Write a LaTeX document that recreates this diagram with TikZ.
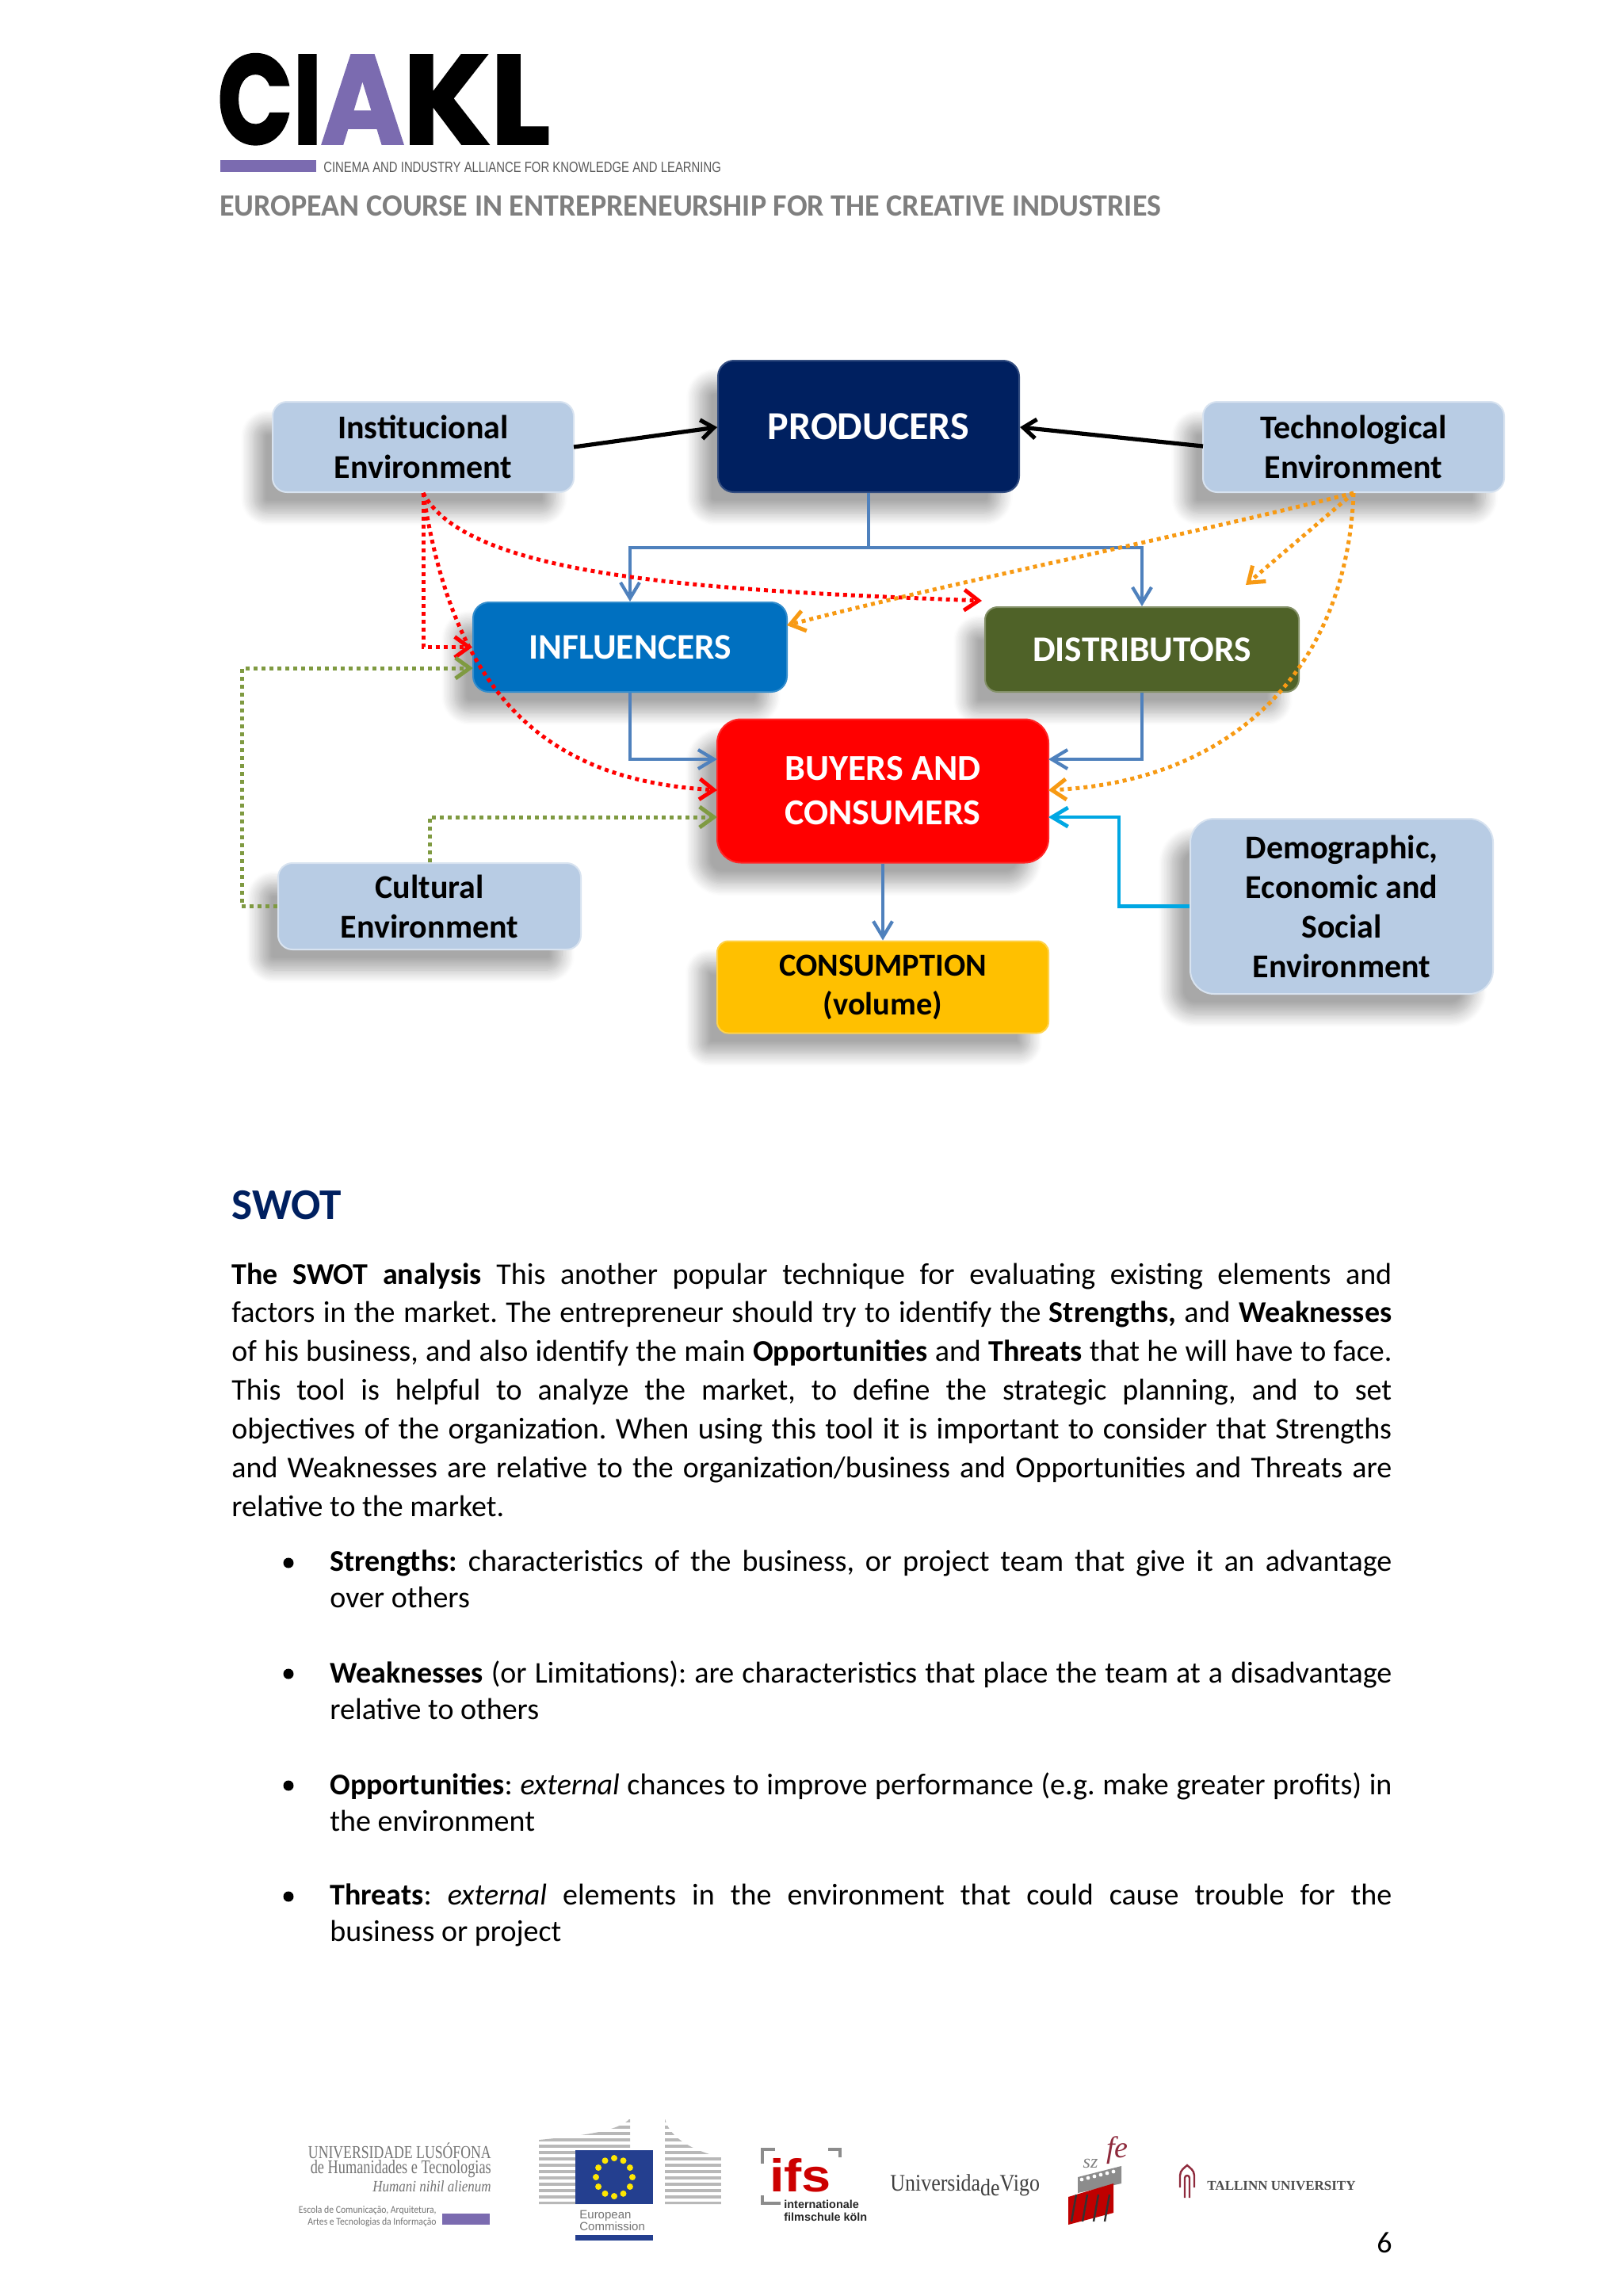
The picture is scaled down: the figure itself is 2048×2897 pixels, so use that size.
\documentclass[tikz,border=0pt]{standalone}
\usepackage{fontspec}
\usepackage{xcolor}
\usepackage{tikz}
\usetikzlibrary{arrows.meta, positioning, calc, shadows.blur}
\setmainfont{Carlito}
\newfontfamily\logofont[BoldFeatures={FakeBold=1.5}]{Poppins}
\newfontfamily\tagfont{Liberation Sans}
\newfontfamily\crestfont{Liberation Serif}
\definecolor{envblue}{HTML}{B8CCE4}
\definecolor{navybox}{HTML}{002060}
\definecolor{inflblue}{HTML}{0070C0}
\definecolor{distgreen}{HTML}{4F6228}
\definecolor{consyellow}{HTML}{FFC000}
\definecolor{linkblue}{HTML}{4F81BD}
\definecolor{demoblue}{HTML}{00A7E3}
\definecolor{dotgreen}{HTML}{7F9A41}
\definecolor{dotorange}{HTML}{F79A14}
\definecolor{ciaklpurple}{HTML}{7B6BB0}
\definecolor{headgrey}{HTML}{7F7F7F}
\definecolor{euflag}{HTML}{243F8F}
\definecolor{tallred}{HTML}{8E2A3C}
\tikzset{
  softshad/.style={blur shadow={shadow xshift=-12pt, shadow yshift=-13pt,
                   shadow blur steps=12, shadow blur radius=8pt, shadow opacity=34}},
  envbox/.style  ={rectangle, draw=envblue!55!white, line width=1pt, rounded corners=9pt,
                   fill=envblue, softshad, minimum width=190pt, minimum height=57pt,
                   align=center, text=black, inner sep=2pt,
                   font=\fontsize{21}{25}\selectfont\bfseries},
  mainbox/.style ={rectangle, line width=1pt, rounded corners=10pt, softshad,
                   align=center, text=white, inner sep=2pt,
                   font=\fontsize{25}{29}\selectfont\bfseries},
  ar/.style      ={-{Straight Barb[length=10pt, width=12pt]}, line width=2.1pt, linkblue},
  blk/.style     ={-{Straight Barb[length=8pt, width=12pt]}, line width=2.6pt, black},
  reddot/.style  ={-{Straight Barb[length=9pt, width=13pt]}, line width=2.5pt, red,
                   dash pattern=on 2.5pt off 2.5pt},
  orgdot/.style  ={-{Straight Barb[length=9pt, width=13pt]}, line width=2.5pt, dotorange,
                   dash pattern=on 2.5pt off 2.5pt},
  grndot/.style  ={-{Straight Barb[length=9pt, width=13pt]}, line width=2.5pt, dotgreen,
                   dash pattern=on 2.5pt off 2.5pt},
  para/.style    ={anchor=north west, inner sep=0pt, align=justify, text=black,
                   font=\fontsize{19}{24.45}\selectfont\frenchspacing},
  item/.style    ={para, text width=670pt, font=\fontsize{19}{23.3}\selectfont\frenchspacing},
  dotitem/.style ={circle, fill=black, inner sep=0pt, minimum size=6.5pt}
}
\begin{document}
\begin{tikzpicture}[x=0.5pt, y=-0.5pt]
\useasboundingbox (0,0) rectangle (2048,2897);
\node[anchor=south west, inner sep=0pt, text depth=0pt,
      font=\logofont\bfseries\fontsize{80}{80}\selectfont] (logo) at (274,182)
      {\makebox[65pt][l]{\scalebox{0.78}[1]{CI}}\makebox[52pt][l]{\textcolor{ciaklpurple}{\scalebox{0.9}[1]{A}}}\scalebox{0.99}[1]{KL}};
\node[rectangle, fill=ciaklpurple, anchor=north west, minimum width=60.5pt, minimum height=7.5pt,
      inner sep=0pt] (logobar) at (278,202) {};
\node[anchor=west, inner sep=0pt, text=black!65, xscale=0.8,
      font=\tagfont\fontsize{9.3}{10}\selectfont] (logotag) at (408,211)
      {CINEMA AND INDUSTRY ALLIANCE FOR KNOWLEDGE AND LEARNING};
\node[anchor=west, inner sep=0pt, text=headgrey, xscale=0.97, font=\fontsize{19.6}{22}\selectfont\bfseries]
      (course) at (277,260) {EUROPEAN COURSE IN ENTREPRENEURSHIP FOR THE CREATIVE INDUSTRIES};

\node[envbox] (inst) at (534,564) {Institucional\\Environment};
\node[mainbox, fill=navybox, draw=navybox!80!white, minimum width=190pt, minimum height=83pt,
      above right=0pt and 90pt of inst.south east] (prod) {PRODUCERS};
\node[envbox, above right=0pt and 115pt of prod.south east] (tech) {Technological\\Environment};
\node[mainbox, fill=inflblue, draw=inflblue!80!white, minimum width=198pt, minimum height=56.5pt,
      font=\fontsize{22.7}{27}\selectfont\bfseries] (infl) at (795,816.5) {INFLUENCERS};
\node[mainbox, fill=distgreen, draw=distgreen!70!white, rounded corners=8pt, minimum width=198pt,
      minimum height=53.5pt, font=\fontsize{22.7}{27}\selectfont\bfseries,
      above right=0pt and 124pt of infl.south east] (dist) {DISTRIBUTORS};
\node[mainbox, fill=red, draw=red!85!white, rounded corners=15pt, minimum width=209pt, minimum height=90.5pt,
      font=\fontsize{23}{28}\selectfont\bfseries] (buyers) at (1114,998) {BUYERS AND\\CONSUMERS};
\node[mainbox, fill=consyellow, draw=consyellow!70!white, text=black, rounded corners=7pt, minimum width=209pt,
      minimum height=58pt, font=\fontsize{20.2}{24.5}\selectfont\bfseries, below=48.5pt of buyers] (cons)
      {CONSUMPTION\\(volume)};
\node[envbox, minimum width=191pt, minimum height=54.5pt] (cult) at (542,1143.5) {Cultural\\Environment};
\node[envbox, rounded corners=15pt, minimum width=191pt, minimum height=110.5pt] (demo) at (1693,1143.5)
      {Demographic,\\Economic and\\Social\\Environment};

\coordinate (prodj) at (1096,691);
\coordinate (buyin1) at (905,958);
\coordinate (buyin2) at (905,997);
\coordinate (buyin3) at (905,1031);
\coordinate (buyout1) at (1323,958);
\coordinate (buyout2) at (1323,997);
\coordinate (buyout3) at (1323,1031);
\coordinate (demoelb) at (1412,1031);
\coordinate (cultlft) at (305,843);
\coordinate (inflin) at (597,843);
\coordinate (inflout) at (993,789);
\coordinate (distin) at (1239,758);
\coordinate (techfree) at (1572,738);
\coordinate (prodin1) at (905,539);
\coordinate (prodin2) at (1287,539);
\coordinate (instout) at (724,564);
\coordinate (techout) at (1518,563);

\draw[blk] (instout) -- (prodin1);
\draw[blk] (techout) -- (prodin2);
\draw[ar] (prod.south) -- (prodj) -| (infl.north);
\draw[ar] (prodj) -| (dist.north);
\draw[ar] (infl.south) |- (buyin1);
\draw[ar] (dist.south) |- (buyout1);
\draw[ar] (buyers.south) -- (cons.north);
\draw[ar, demoblue, line width=2.4pt] (demo.west) -| (demoelb) -- (buyout3);
\draw[reddot] (inst.south) |- (infl.west);
\draw[reddot] (inst.south) .. controls (575,890) and (700,985) .. (buyin2);
\draw[reddot] (inst.south) .. controls (590,730) and (900,745) .. (distin);
\draw[orgdot] (tech.south) .. controls (1500,675) and (1200,735) .. (inflout);
\draw[orgdot] (tech.south) -- (techfree);
\draw[orgdot] (tech.south) .. controls (1700,830) and (1570,985) .. (buyout2);
\draw[grndot] (cult.north) |- (buyin3);
\draw[grndot] (cult.west) -| (cultlft) -- (inflin);

\node[anchor=west, inner sep=0pt, text=navybox, font=\fontsize{27.6}{30}\selectfont\bfseries]
      (swot) at (292,1521) {SWOT};
\node[para, text width=732pt] (intro) at (292,1593)
 {\textbf{The SWOT analysis} This another popular technique for evaluating existing elements and\linebreak
  factors in the market. The entrepreneur should try to identify the \textbf{Strengths,} and \textbf{Weaknesses}\linebreak
  of his business, and also identify the main \textbf{Opportunities} and \textbf{Threats} that he will have to face.\linebreak
  This tool is helpful to analyze the market, to define the strategic planning, and to set\linebreak
  objectives of the organization. When using this tool it is important to consider that Strengths\linebreak
  and Weaknesses are relative to the organization/business and Opportunities and Threats are\linebreak
  relative to the market.};
\node[dotitem] (dot1) at (364,1972) {};
\node[item] (item1) at (416,1955)
 {\textbf{Strengths:} characteristics of the business, or project team that give it an advantage\linebreak over others};
\node[dotitem] (dot2) at (364,2112) {};
\node[item] (item2) at (416,2095)
 {\textbf{Weaknesses} (or Limitations): are characteristics that place the team at a disadvantage\linebreak relative to others};
\node[dotitem] (dot3) at (364,2253) {};
\node[item] (item3) at (416,2236)
 {\textbf{Opportunities}: \textit{external} chances to improve performance (e.g. make greater profits) in\linebreak the environment};
\node[dotitem] (dot4) at (364,2393) {};
\node[item] (item4) at (416,2376)
 {\textbf{Threats}: \textit{external} elements in the environment that could cause trouble for the\linebreak business or project};

\begin{scope}[crestfont/.style={inner sep=0pt, text=black!55}]
\node[crestfont, anchor=east, font=\crestfont\fontsize{11.5}{12}\selectfont, xscale=0.77] (lus1) at (620,2714) {UNIVERSIDADE LUSÓFONA};
\node[crestfont, anchor=east, font=\crestfont\fontsize{12.2}{13}\selectfont, xscale=0.75] (lus2) at (620,2737) {de Humanidades e Tecnologias};
\node[crestfont, anchor=east, font=\crestfont\itshape\fontsize{10}{11}\selectfont, xscale=0.85] (lus3) at (620,2759) {Humani nihil alienum};
\node[crestfont, anchor=east, align=right, font=\fontsize{6.5}{7.5}\selectfont, xscale=0.9] (lus4) at (551,2797)
 {Escola de Comunicação, Arquitetura,\\Artes e Tecnologias da Informação};
\node[rectangle, fill=ciaklpurple, inner sep=0pt, minimum width=30pt, minimum height=7pt] (lusbar) at (588,2800) {};
\end{scope}
\begin{scope}
\clip (680,2700) .. controls (730,2695) and (780,2690) .. (795,2673) -- (795,2781) -- (680,2781) -- cycle;
\foreach \yy in {2676,2684,...,2780} \draw[black!28, line width=2pt] (680,\yy) -- (800,\yy);
\end{scope}
\begin{scope}
\clip (839,2673) .. controls (845,2700) and (880,2715) .. (910,2722) -- (910,2781) -- (839,2781) -- cycle;
\foreach \yy in {2676,2684,...,2780} \draw[black!28, line width=2pt] (839,\yy) -- (910,\yy);
\end{scope}
\fill[euflag] (726,2713) rectangle (824,2781);
\foreach \aa in {0,30,...,330} \fill[yellow!90!orange] ($(775,2747)+(\aa:23 and 24)$) circle (2pt);
\node[anchor=west, inner sep=0pt, text=black!55, align=left, font=\tagfont\fontsize{7.5}{7.2}\selectfont]
      (eclabel) at (731,2802) {European\\Commission};
\fill[euflag] (726,2820) rectangle (824,2827);
\draw[black!45, line width=2pt] (962,2730) -- (962,2712) -- (978,2712) (1045,2712) -- (1060,2712) -- (1060,2722)
      (962,2770) -- (962,2780) -- (985,2780);
\node[anchor=center, inner sep=0pt, text=red!80!black, xscale=1.15,
      font=\tagfont\bfseries\fontsize{29}{29}\selectfont] (ifslogo) at (1010,2745) {ifs};
\node[anchor=north west, inner sep=0pt, text=black!85, align=left,
      font=\tagfont\bfseries\fontsize{7.2}{8}\selectfont] (ifstext) at (989,2776) {internationale\\filmschule köln};
\node[anchor=west, inner sep=0pt, text=black!75, font=\crestfont\fontsize{15}{16}\selectfont, xscale=0.865]
      (vigo) at (1123,2757) {Universida\raisebox{-3pt}{de}Vigo};
\node[anchor=center, inner sep=0pt, text=black!50, font=\crestfont\itshape\fontsize{12}{12}\selectfont] (szlogo) at (1376,2730) {sz};
\node[anchor=center, inner sep=0pt, text=tallred, font=\crestfont\itshape\fontsize{19}{19}\selectfont] (felogo) at (1410,2713) {fe};
\fill[black!45] (1360,2747) -- (1415,2733) -- (1415,2755) -- (1360,2767) -- cycle;
\foreach \xx in {1365,1373,...,1410} \fill[white] (\xx,{2750-(\xx-1365)*0.25}) circle (1.2pt);
\fill[red!75!black] (1348,2772) -- (1405,2755) -- (1405,2792) -- (1348,2807) -- cycle;
\foreach \xx in {1358,1372,...,1400} \draw[black!80, line width=1.2pt] (\xx,2769) -- (\xx-6,2803);
\draw[tallred, line width=1.2pt] (1489,2760) -- (1489,2745) .. controls (1489,2738) and (1495,2735) .. (1498,2732)
      .. controls (1501,2735) and (1507,2738) .. (1507,2745) -- (1507,2760);
\draw[tallred, line width=1.2pt] (1495,2773) -- (1495,2748) .. controls (1495,2744) and (1501,2744) .. (1501,2748) -- (1501,2773);
\node[anchor=west, inner sep=0pt, text=black!70, font=\crestfont\bfseries\fontsize{8.5}{10}\selectfont]
      (tallinn) at (1523,2758) {TALLINN UNIVERSITY};
\node[anchor=center, inner sep=0pt, text=black, font=\fontsize{19}{22}\selectfont] (pagenum) at (1747,2830) {6};
\end{tikzpicture}
\end{document}
